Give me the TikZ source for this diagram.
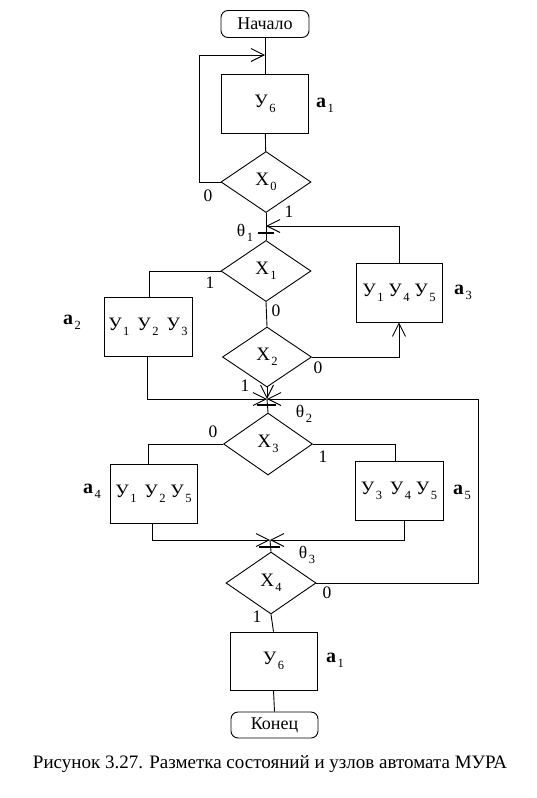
\documentclass[tikz,border=0pt]{standalone}
\usepackage{fontspec}
\setmainfont{Liberation Serif}
\usetikzlibrary{arrows.meta,shapes.geometric}
\newcommand{\lo}[1]{\hspace{1.5pt}\raisebox{-0.55ex}{\fontsize{12.5}{12.5}\selectfont #1}}
\newcommand{\al}[1]{\textbf{a}\lo{#1}}
\begin{document}
\begin{tikzpicture}[x=1pt,y=-1pt,
  line width=0.9pt,
  every node/.style={inner sep=0pt},
  big/.style={font=\fontsize{19}{22}\selectfont},
  lab/.style={font=\fontsize{20}{22}\selectfont},
  sm/.style={font=\fontsize{17.5}{19}\selectfont},
  opbox/.style={draw, big, minimum width=87pt, minimum height=59pt},
  term/.style={draw, rounded corners=7pt, minimum width=88pt, minimum height=27pt, font=\fontsize{18}{20}\selectfont},
  dia/.style={draw, diamond, big, minimum width=90pt, minimum height=61pt},
  arr/.style={-{Straight Barb[length=13pt,width=13pt]}},
  tick/.style={line width=2.4pt}
]
\useasboundingbox (0,0) rectangle (536,798);

\node[term] (start) at (265,24) {Начало};
\node[opbox] (a1t) at (265,104) {У\lo{6}};
\node[dia] (x0) at (266,182) {X\lo{0}};
\node[dia] (x1) at (266,271) {X\lo{1}};
\node[opbox, minimum width=88pt] (a2) at (148,326.5) {У\lo{1}\, У\lo{2}\, У\lo{3}};
\node[opbox, minimum width=86pt] (a3) at (399,292.5) {У\lo{1} У\lo{4} У\lo{5}};
\node[dia, minimum width=89pt, minimum height=60pt] (x2) at (267,357) {X\lo{2}};
\node[dia, minimum width=89pt, minimum height=62pt] (x3) at (268,444) {X\lo{3}};
\node[opbox] (a4) at (153.5,493.5) {У\lo{1}\, У\lo{2} У\lo{5}};
\node[opbox, minimum width=88pt] (a5) at (399,490.5) {У\lo{3}\, У\lo{4} У\lo{5}};
\node[dia, minimum height=62pt] (x4) at (271,583) {X\lo{4}};
\node[opbox, minimum height=58pt] (a1b) at (273.5,661) {У\lo{6}};
\node[term, minimum width=87pt, minimum height=26pt] (end) at (274.5,725) {Конец};

\coordinate (j0) at (265,55);
\coordinate (lc) at (199,55);
\coordinate (j1) at (266,226);
\coordinate (j2) at (267,399);
\coordinate (rc) at (478,399);
\coordinate (j3) at (270,540);

% top part
\draw (start) -- (a1t);
\draw (a1t) -- (x0);
\draw[arr] (x0.west) -| (lc) -- (j0);
\draw (x0.south) -- (x1.north);
\draw[arr] (a3.north) |- (j1);
\draw[tick] (258,233) -- (274,233);

% x1, x2
\draw (x1.west) -| ([xshift=1pt]a2.north);
\draw (x1.south) -- (x2.north);
\draw[arr] (x2.east) -| (a3.south);
\draw[arr] (x2.south) -- (j2);
\draw[arr] ([xshift=-1pt]a2.south) |- (j2);
\draw[arr] (x4.east) -| (rc) -- (j2);
\draw (j2) -- (x3.north);
\draw[tick] (257,405) -- (276,405);

% x3
\draw (x3.west) -| ([xshift=-5.5pt]a4.north);
\draw (x3.east) -| ([xshift=-4pt]a5.north);
\draw[arr] ([xshift=-1.5pt]a4.south) |- (j3);
\draw[arr] ([xshift=5pt]a5.south) |- (j3);
\draw (j3) -- (x4.north);
\draw[tick] (259,547) -- (280,547);

% bottom
\draw (x4.south) -- (a1b.north);
\draw (a1b.south) -- (end.north);

% labels
\node[lab] (la1t) at (325,105) {\al{1}};
\node[sm] (l00) at (208,196) {0};
\node[sm] (l01) at (289,212) {1};
\node[sm] (lt1) at (245,233) {θ\lo{1}};
\node[sm] (l11) at (210,283) {1};
\node[sm] (l10) at (276,311) {0};
\node[sm] (l20) at (318,368) {0};
\node[sm] (l21) at (245,386) {1};
\node[lab] (la2) at (72,322) {\al{2}};
\node[lab] (la3) at (463,292) {\al{3}};
\node[sm] (lt2) at (304,414) {θ\lo{2}};
\node[sm] (l30) at (213,432) {0};
\node[sm] (l31) at (323,457) {1};
\node[lab] (la4) at (92,491) {\al{4}};
\node[lab] (la5) at (462,492) {\al{5}};
\node[sm] (lt3) at (307,555) {θ\lo{3}};
\node[sm] (l40) at (327,593) {0};
\node[sm] (l41) at (257,617) {1};
\node[lab] (la1b) at (335,660) {\al{1}};

\node[font=\fontsize{19}{22}\selectfont] (cap) at (270,764) {Рисунок 3.27. Разметка состояний и узлов автомата МУРА};
\end{tikzpicture}
\end{document}
